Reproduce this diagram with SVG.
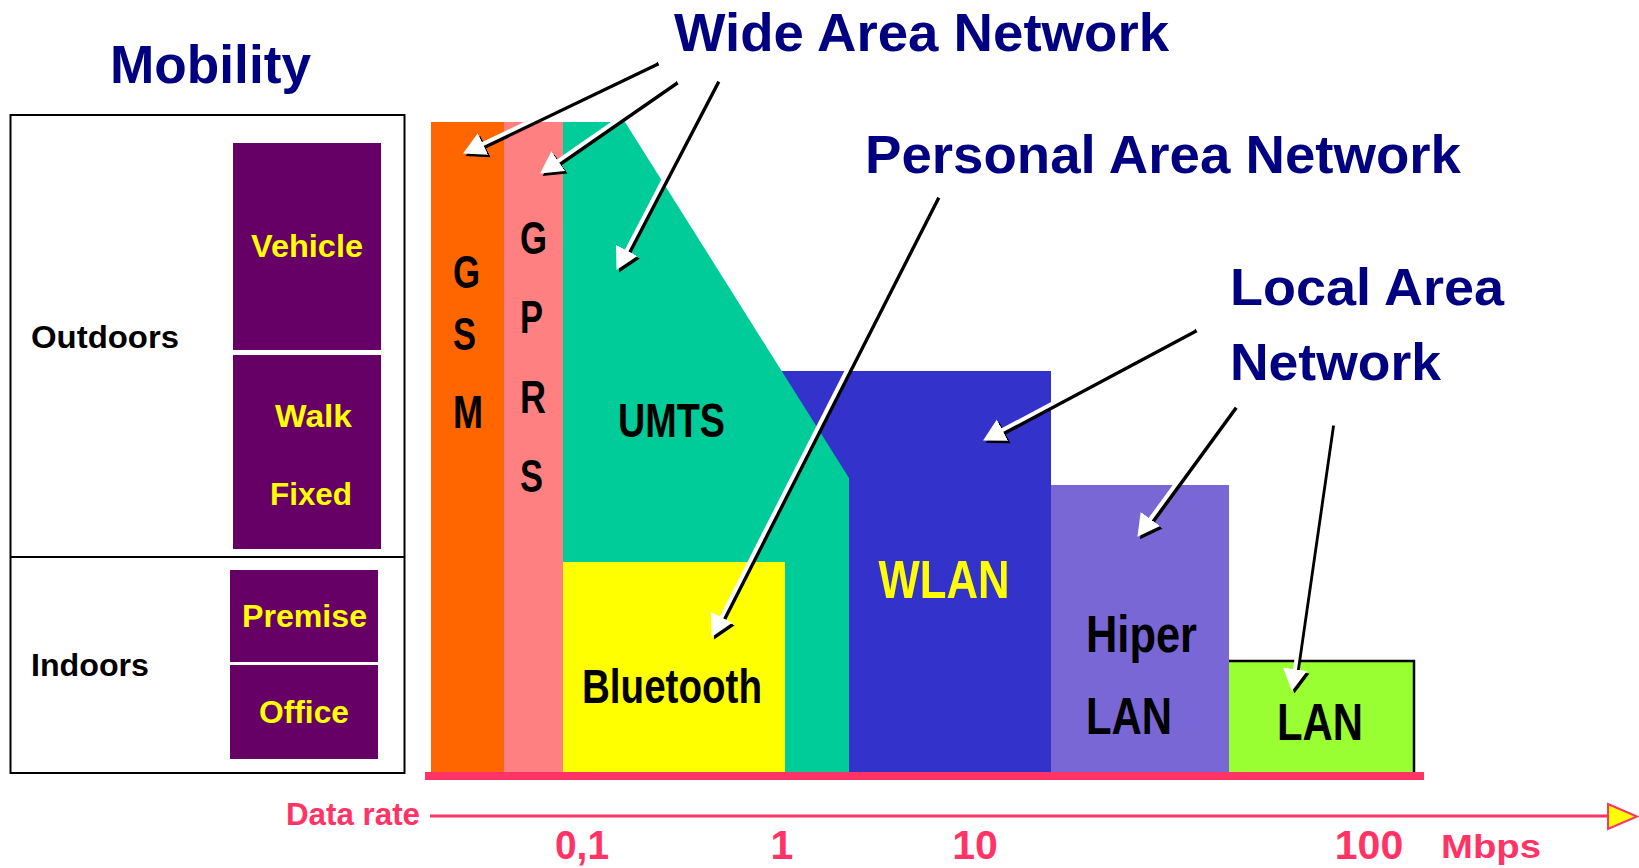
<svg xmlns="http://www.w3.org/2000/svg" width="1639" height="868" viewBox="0 0 1639 868">
<defs>
<style>
text{font-family:"Liberation Sans",Arial,sans-serif;font-weight:bold}
.navy{fill:#000080}
.mob{fill:#FFFF00;font-size:32px}
.blk{fill:#000000}
.pk{fill:#FF3366}
.frame{fill:none;stroke:#000;stroke-width:2}
.mbox{fill:#660066}
.sh{stroke:#000;stroke-width:4;fill:none;marker-end:url(#hb)}
.wh{stroke:#fff;stroke-width:4;fill:none;marker-end:url(#hw)}
</style>
<marker id="hw" markerUnits="userSpaceOnUse" markerWidth="24" markerHeight="26" viewBox="0 -13 24 26" refX="1" refY="0" orient="auto">
<path d="M0,-12 L22,0 L0,12 z" fill="#fff"/>
</marker>
<marker id="hb" markerUnits="userSpaceOnUse" markerWidth="24" markerHeight="26" viewBox="0 -13 24 26" refX="1" refY="0" orient="auto">
<path d="M0,-12 L22,0 L0,12 z" fill="#000"/>
</marker>
</defs>
<rect width="1639" height="868" fill="#fff"/>

<g id="mobility">
<text class="navy" x="110" y="83" font-size="54" textLength="201" lengthAdjust="spacingAndGlyphs">Mobility</text>
<rect class="frame" x="10.5" y="115" width="394" height="658"/>
<line x1="10.5" y1="557" x2="404.5" y2="557" stroke="#000" stroke-width="2"/>
<text class="blk" x="31" y="348" font-size="32" textLength="148" lengthAdjust="spacingAndGlyphs">Outdoors</text>
<text class="blk" x="31" y="676" font-size="32" textLength="118" lengthAdjust="spacingAndGlyphs">Indoors</text>
</g>
<g id="vehicle">
<rect class="mbox" x="233" y="143" width="148" height="207"/>
<text class="mob" x="251" y="257" textLength="112" lengthAdjust="spacingAndGlyphs">Vehicle</text>
</g>
<g id="walk-fixed">
<rect class="mbox" x="233" y="355" width="148" height="194"/>
<text class="mob" x="275" y="427" textLength="77" lengthAdjust="spacingAndGlyphs">Walk</text>
<text class="mob" x="270" y="505" textLength="82" lengthAdjust="spacingAndGlyphs">Fixed</text>
</g>
<g id="premise">
<rect class="mbox" x="230" y="570" width="148" height="92"/>
<text class="mob" x="242" y="627" textLength="125" lengthAdjust="spacingAndGlyphs">Premise</text>
</g>
<g id="office">
<rect class="mbox" x="230" y="665" width="148" height="94"/>
<text class="mob" x="259" y="723" textLength="90" lengthAdjust="spacingAndGlyphs">Office</text>
</g>

<g id="wlan">
<rect x="780" y="371" width="271" height="401" fill="#3333CC"/>
<text x="878.5" y="598" font-size="54" fill="#FFFF00" textLength="131" lengthAdjust="spacingAndGlyphs">WLAN</text>
</g>
<g id="umts">
<polygon points="563,122 625,122 849,478 849,772 563,772" fill="#00CC99"/>
<text class="blk" x="618" y="437" font-size="48" textLength="107" lengthAdjust="spacingAndGlyphs">UMTS</text>
</g>
<g id="bluetooth">
<rect x="563" y="562" width="222" height="210" fill="#FFFF00"/>
<text class="blk" x="582" y="703" font-size="49" textLength="180" lengthAdjust="spacingAndGlyphs">Bluetooth</text>
</g>
<g id="gsm">
<rect x="431" y="122" width="73" height="650" fill="#FF6600"/>
<text class="blk" x="453" y="288" font-size="46" textLength="27" lengthAdjust="spacingAndGlyphs">G</text>
<text class="blk" x="453" y="350" font-size="46" textLength="23" lengthAdjust="spacingAndGlyphs">S</text>
<text class="blk" x="453" y="428" font-size="46" textLength="30" lengthAdjust="spacingAndGlyphs">M</text>
</g>
<g id="gprs">
<rect x="504" y="122" width="59" height="650" fill="#FF8080"/>
<text class="blk" x="520" y="254" font-size="46" textLength="27" lengthAdjust="spacingAndGlyphs">G</text>
<text class="blk" x="520" y="333" font-size="46" textLength="23" lengthAdjust="spacingAndGlyphs">P</text>
<text class="blk" x="520" y="413" font-size="46" textLength="26" lengthAdjust="spacingAndGlyphs">R</text>
<text class="blk" x="520" y="492" font-size="46" textLength="23" lengthAdjust="spacingAndGlyphs">S</text>
</g>
<g id="hiperlan">
<rect x="1051" y="485" width="178" height="287" fill="#7867D5"/>
<text class="blk" x="1086" y="652" font-size="52" textLength="111" lengthAdjust="spacingAndGlyphs">Hiper</text>
<text class="blk" x="1086" y="734" font-size="52" textLength="86" lengthAdjust="spacingAndGlyphs">LAN</text>
</g>
<g id="lan">
<rect x="1229" y="661" width="185" height="111" fill="#99FF33"/>
<polyline points="1229,661 1414,661 1414,772" fill="none" stroke="#000" stroke-width="2.5"/>
<text class="blk" x="1277" y="740" font-size="52" textLength="86" lengthAdjust="spacingAndGlyphs">LAN</text>
</g>

<g id="labels">
<text class="navy" x="674" y="51" font-size="53" textLength="495" lengthAdjust="spacingAndGlyphs">Wide Area Network</text>
<text class="navy" x="865" y="173" font-size="53" textLength="596" lengthAdjust="spacingAndGlyphs">Personal Area Network</text>
<text class="navy" x="1230" y="305" font-size="52" textLength="274" lengthAdjust="spacingAndGlyphs">Local Area</text>
<text class="navy" x="1230" y="380" font-size="52" textLength="211" lengthAdjust="spacingAndGlyphs">Network</text>
</g>

<g id="axis">
<rect x="425" y="772" width="999" height="8" fill="#FF3366"/>
<text class="pk" x="286" y="825" font-size="32" textLength="134" lengthAdjust="spacingAndGlyphs">Data rate</text>
<line x1="430" y1="816" x2="1608" y2="816" stroke="#FF3366" stroke-width="3"/>
<polygon points="1608,804 1637,816.5 1608,829" fill="#FFFF00" stroke="#FF3366" stroke-width="2"/>
<text class="pk" x="555" y="859" font-size="41" textLength="54" lengthAdjust="spacingAndGlyphs">0,1</text>
<text class="pk" x="782" y="859" font-size="41" text-anchor="middle">1</text>
<text class="pk" x="975" y="859" font-size="41" text-anchor="middle">10</text>
<text class="pk" x="1369" y="859" font-size="41" text-anchor="middle">100</text>
<text class="pk" x="1441" y="858" font-size="34" textLength="100" lengthAdjust="spacingAndGlyphs">Mbps</text>
</g>

<g id="connectors">
<g transform="translate(2.5,2.5)">
<line class="sh" x1="656" y1="61" x2="482" y2="144.4"/>
<line class="sh" x1="675" y1="80" x2="557.4" y2="161.6"/>
<line class="sh" x1="716" y1="79" x2="626.2" y2="251.3"/>
<line class="sh" x1="936" y1="195" x2="721.1" y2="618.2"/>
<line class="sh" x1="1194" y1="328" x2="1001.6" y2="430.6"/>
<line class="sh" x1="1233.5" y1="405" x2="1149.8" y2="519.8"/>
<line class="sh" x1="1330.5" y1="423" x2="1294.9" y2="670.2"/>
</g>
<line class="wh" x1="656" y1="61" x2="482" y2="144.4"/>
<line class="wh" x1="675" y1="80" x2="557.4" y2="161.6"/>
<line class="wh" x1="716" y1="79" x2="626.2" y2="251.3"/>
<line class="wh" x1="936" y1="195" x2="721.1" y2="618.2"/>
<line class="wh" x1="1194" y1="328" x2="1001.6" y2="430.6"/>
<line class="wh" x1="1233.5" y1="405" x2="1149.8" y2="519.8"/>
<line class="wh" x1="1330.5" y1="423" x2="1294.9" y2="670.2"/>
</g>
</svg>
